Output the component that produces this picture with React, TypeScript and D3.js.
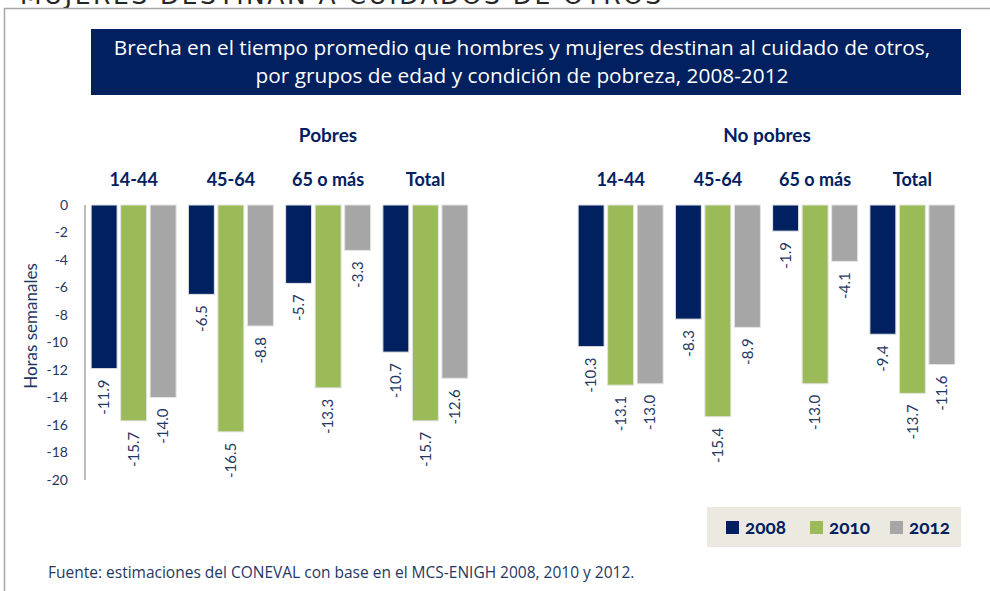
import React from "react";
import * as d3 from "d3";

const panels = ["Pobres", "No pobres"];
const groups = ["14-44", "45-64", "65 o más", "Total"];
const years = ["2008", "2010", "2012"];

// horas semanales, por panel -> año -> grupo
const pobres2008 = [-11.9, -6.5, -5.7, -10.7];
const pobres2010 = [-15.7, -16.5, -13.3, -15.7];
const pobres2012 = [-14.0, -8.8, -3.3, -12.6];
const noPobres2008 = [-10.3, -8.3, -1.9, -9.4];
const noPobres2010 = [-13.1, -15.4, -13.0, -13.7];
const noPobres2012 = [-13.0, -8.9, -4.1, -11.6];

const yTicks = [0, -2, -4, -6, -8, -10, -12, -14, -16, -18, -20];

const seriesByPanel: Record<string, number[][]> = {
  "Pobres": [pobres2008, pobres2010, pobres2012],
  "No pobres": [noPobres2008, noPobres2010, noPobres2012],
};

const colors = ["#002060", "#9BBB59", "#A6A6A6"];
const navy = "#002060";
const textNavy = "#1F3864";
const font = "Lato, 'Open Sans', sans-serif";
const bodyFont = "'Open Sans', Lato, sans-serif";

const W = 990;
const H = 591;

export default function App() {
  const y = d3.scaleLinear().domain([0, -20]).range([205, 480]);

  const panelX = d3.scaleBand<string>().domain(panels).range([85, 85 + 2 * 487]);
  const groupX = d3.scaleBand<string>().domain(groups).range([0, 389]);
  const yearX = d3
    .scaleBand<string>()
    .domain(years)
    .range([(389 / 4 - 85) / 2, (389 / 4 - 85) / 2 + 85])
    .paddingInner(0.12);

  const panelTitleX: Record<string, number> = { "Pobres": 328, "No pobres": 767 };

  return (
    <svg
      width={W}
      height={H}
      style={{ position: "absolute", left: 0, top: 0, background: "#fff" }}
      fontFamily={font}
    >
      {/* encabezado recortado, como en el original */}
      <text x={20} y={4} fontSize={25} fill="#262626" fontFamily="'DejaVu Sans', sans-serif" letterSpacing={2.5}>
        MUJERES DESTINAN A CUIDADOS DE OTROS
      </text>
      <line x1={4.5} x2={4.5} y1={8} y2={H} stroke="#a6a6a6" strokeWidth={1.5} />
      <line x1={4} x2={W} y1={8.5} y2={8.5} stroke="#a6a6a6" strokeWidth={1.5} />

      {/* titulo */}
      <rect x={91} y={29} width={870} height={66} fill={navy} />
      <text x={522} y={55} textAnchor="middle" fill="#fff" fontSize={20.8} fontFamily={bodyFont}>
        Brecha en el tiempo promedio que hombres y mujeres destinan al cuidado de otros,
      </text>
      <text x={522} y={83} textAnchor="middle" fill="#fff" fontSize={20.8} fontFamily={bodyFont}>
        por grupos de edad y condición de pobreza, 2008-2012
      </text>

      {/* eje y */}
      <line x1={85} x2={85} y1={y(0)} y2={y(-20)} stroke="#a6a6a6" strokeWidth={1.5} />
      {yTicks.map((t) => (
        <text key={t} x={68} y={y(t)} dy="0.35em" textAnchor="end" fontSize={14} fill={textNavy}>
          {String(t)}
        </text>
      ))}
      <text
        transform={`translate(37, 326) rotate(-90)`}
        textAnchor="middle"
        fontSize={17}
        fill={textNavy}
      >
        Horas semanales
      </text>

      {panels.map((p) => {
        const px = panelX(p)!;
        const series = seriesByPanel[p];
        return (
          <g key={p} transform={`translate(${px},0)`}>
            <text x={panelTitleX[p] - px} y={142} textAnchor="middle" fontSize={19} fontWeight="bold" fill={navy}>
              {p}
            </text>
            {groups.map((g, gi) => {
              const gx = groupX(g)!;
              return (
                <g key={g} transform={`translate(${gx},0)`}>
                  <text
                    x={groupX.bandwidth() / 2}
                    y={186}
                    textAnchor="middle"
                    fontSize={18}
                    fontWeight="bold"
                    fill={navy}
                  >
                    {g}
                  </text>
                  {years.map((yr, si) => {
                    const v = series[si][gi];
                    const bx = yearX(yr)!;
                    const bw = yearX.bandwidth();
                    return (
                      <g key={yr}>
                        <rect
                          x={bx}
                          y={y(0)}
                          width={bw}
                          height={y(v) - y(0)}
                          fill={colors[si]}
                          stroke="#e4e4e4"
                          strokeWidth={1}
                        />
                        <text
                          transform={`translate(${bx + bw / 2}, ${y(v) + 11}) rotate(-90)`}
                          dy="0.35em"
                          textAnchor="end"
                          fontSize={15}
                          fill={textNavy}
                        >
                          {v.toFixed(1)}
                        </text>
                      </g>
                    );
                  })}
                </g>
              );
            })}
          </g>
        );
      })}

      {/* leyenda */}
      <rect x={707} y={507} width={254} height={40} fill="#ECEAE0" />
      {years.map((yr, i) => {
        const lx = [726, 810, 890][i];
        return (
          <g key={yr}>
            <rect x={lx} y={521} width={13} height={13} fill={colors[i]} />
            <text
              x={lx + 19}
              y={534}
              fontSize={19}
              fontWeight="bold"
              fill={navy}
              style={{ fontVariantNumeric: "oldstyle-nums" }}
            >
              {yr}
            </text>
          </g>
        );
      })}

      <text x={48} y={578} fontSize={15.5} fill={textNavy} fontFamily={bodyFont}>
        Fuente: estimaciones del CONEVAL con base en el MCS-ENIGH 2008, 2010 y 2012.
      </text>
    </svg>
  );
}
